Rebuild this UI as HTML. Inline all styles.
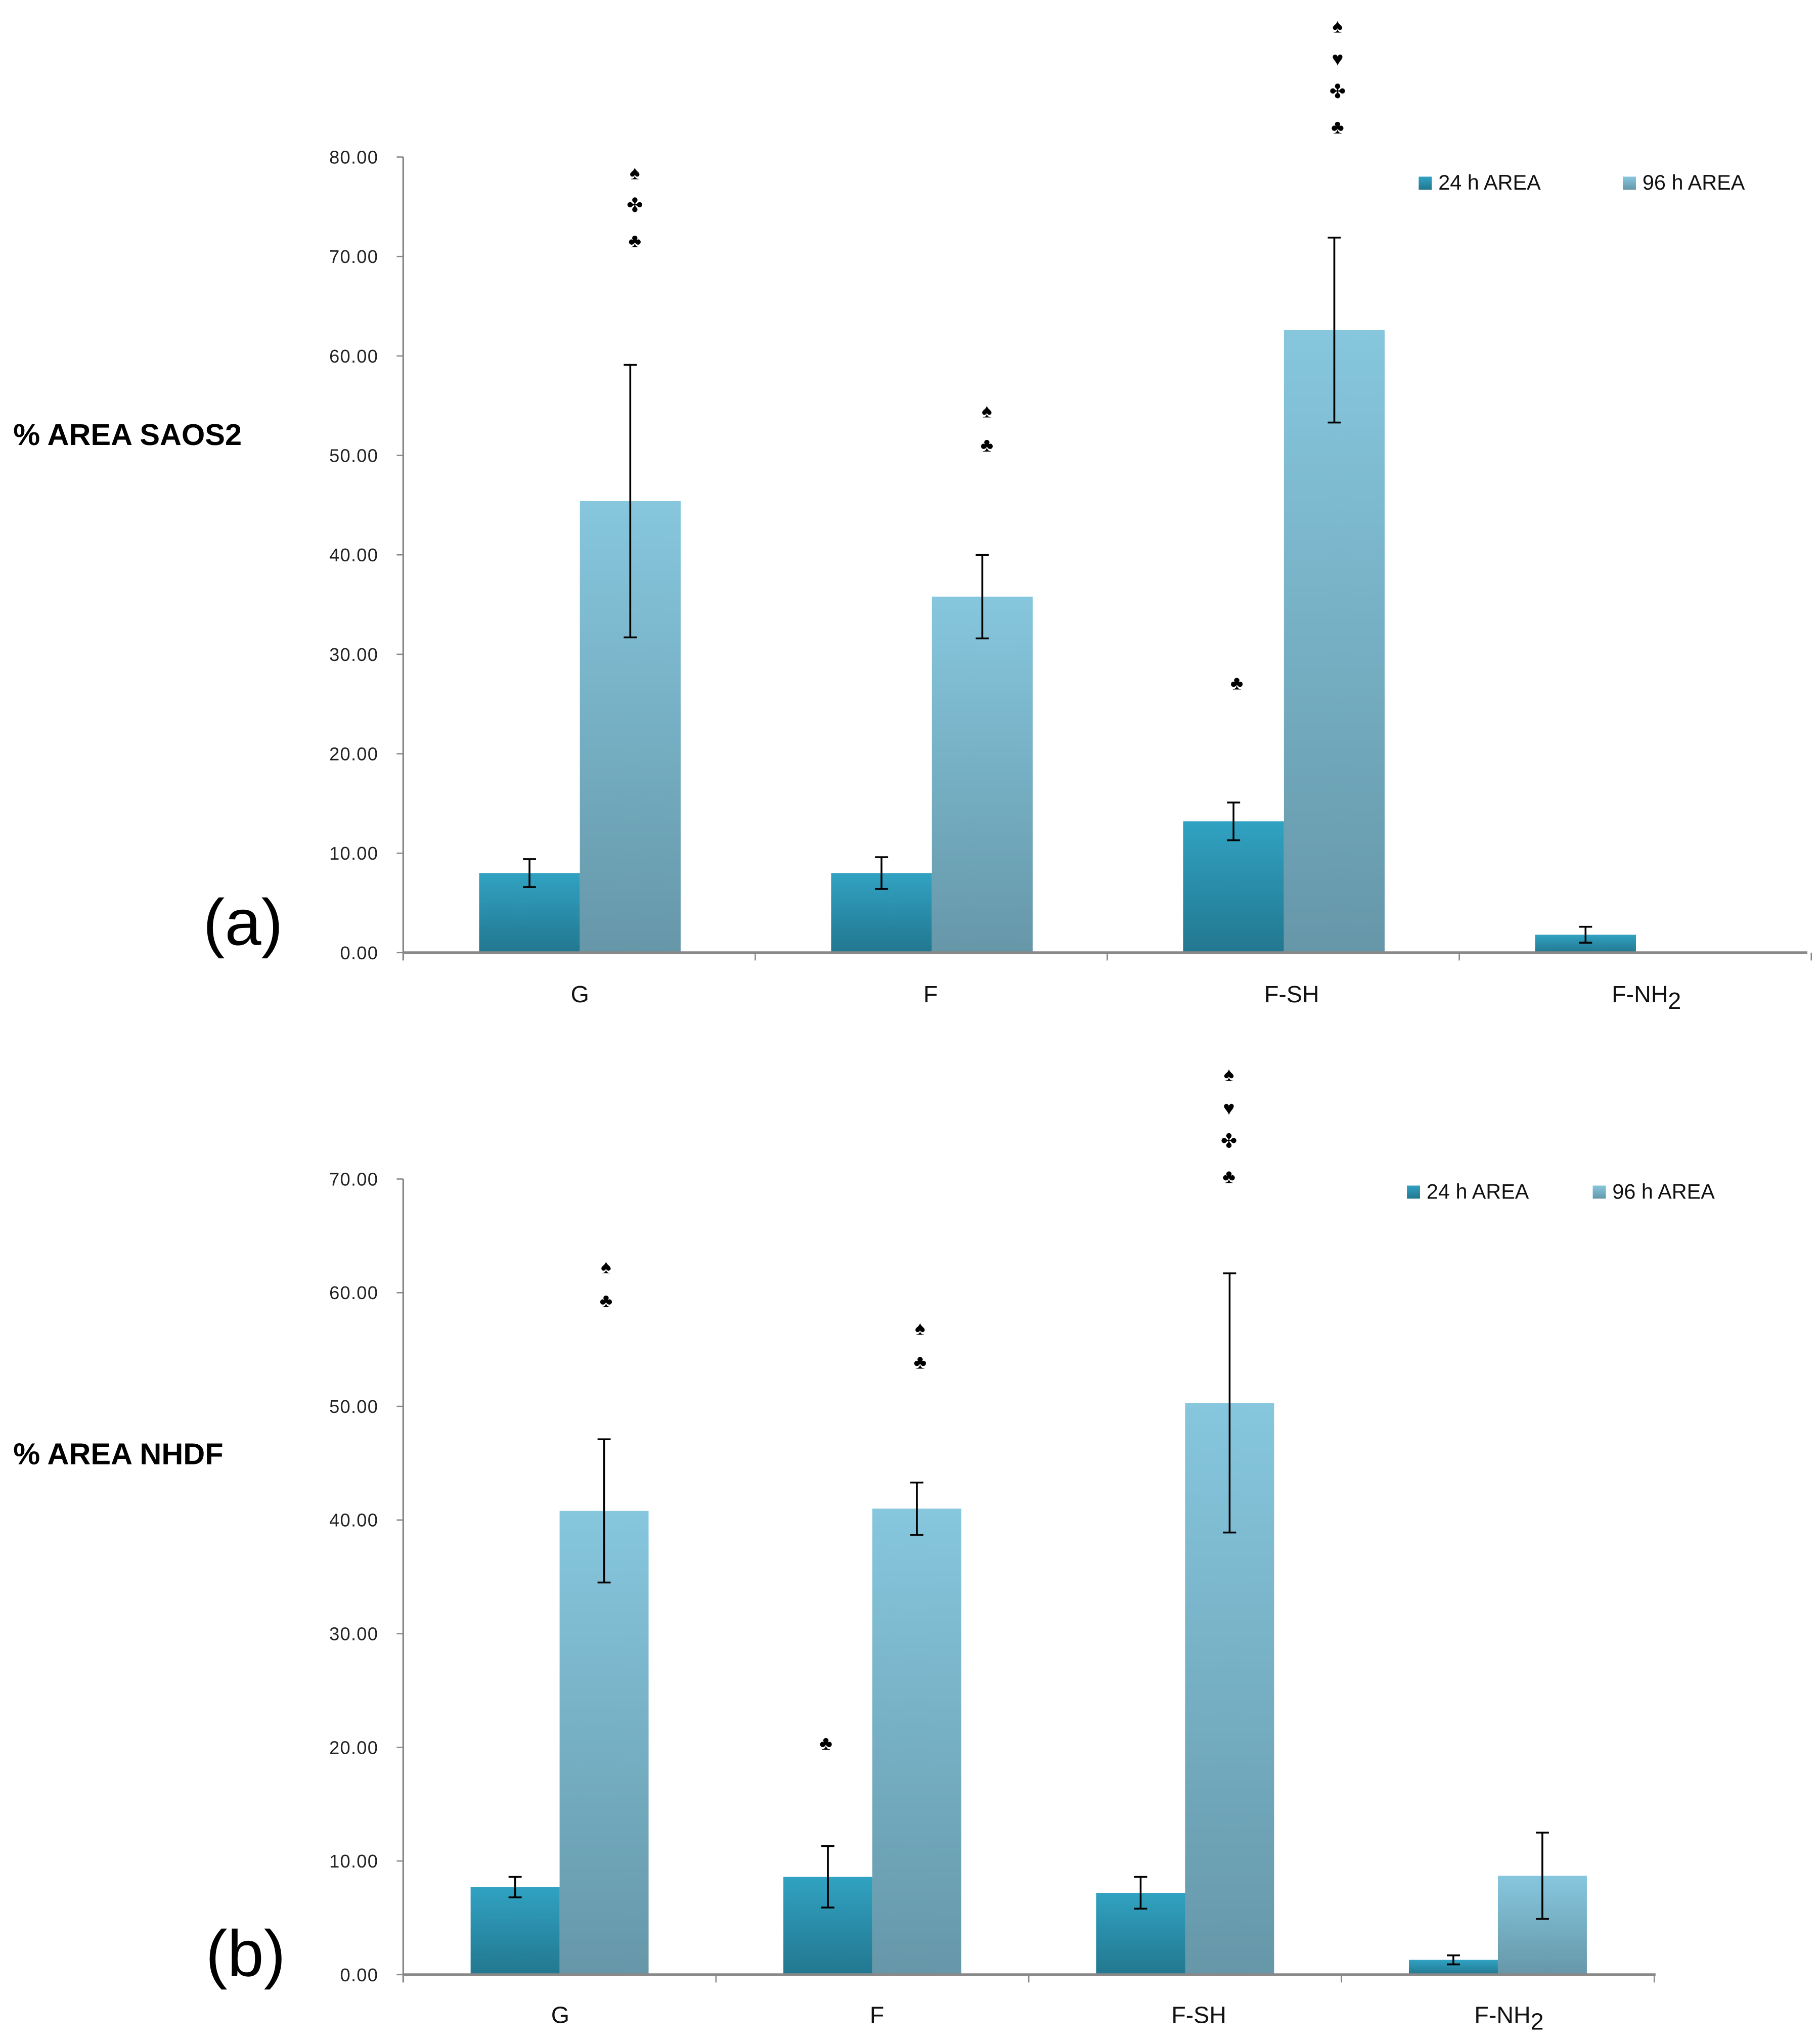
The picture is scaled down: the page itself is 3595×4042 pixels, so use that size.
<!DOCTYPE html>
<html><head><meta charset="utf-8"><style>
html,body{margin:0;padding:0;background:#fff}
svg{display:block}
text{font-family:"Liberation Sans","DejaVu Sans",sans-serif}
</style></head><body>
<svg id="fig" xmlns="http://www.w3.org/2000/svg" width="3595" height="4042" viewBox="0 0 1389 1562">
<defs>
<linearGradient id="g24" x1="0" y1="0" x2="0" y2="1"><stop offset="0" stop-color="#31a2c2"/><stop offset="1" stop-color="#22778f"/></linearGradient>
<linearGradient id="g96" x1="0" y1="0" x2="0" y2="1"><stop offset="0" stop-color="#86c7de"/><stop offset="1" stop-color="#6697a9"/></linearGradient>
</defs>
<g id="pa"></g>
<g id="pb"></g>
</svg>
<script>
const categories = ["G","F","F-SH","F-NH2"];
const aTicks = ["0.00","10.00","20.00","30.00","40.00","50.00","60.00","70.00","80.00"];
const a24 = [8.0, 8.0, 13.2, 1.8];
const a24Err = [1.4, 1.6, 1.9, 0.8];
const a96 = [45.4, 35.8, 62.6, 0];
const a96Err = [13.7, 4.2, 9.3, 0];
const bTicks = ["0.00","10.00","20.00","30.00","40.00","50.00","60.00","70.00"];
const b24 = [7.7, 8.6, 7.2, 1.3];
const b24Err = [0.9, 2.7, 1.4, 0.4];
const b96 = [40.8, 41.0, 50.3, 8.7];
const b96Err = [6.3, 2.3, 11.4, 3.8];

const NS="http://www.w3.org/2000/svg";
function mk(parent,tag,attrs,txt){const e=document.createElementNS(NS,tag);for(const k in attrs)e.setAttribute(k,attrs[k]);if(txt!==undefined)e.textContent=txt;parent.appendChild(e);return e;}

function panel(g,cfg){
  const y=v=>cfg.y0-(v/cfg.max)*(cfg.y0-cfg.yTop);
  // y axis
  let ax=mk(g,'line',{x1:cfg.x0,y1:cfg.yTop,x2:cfg.x0,y2:cfg.y0+6,stroke:'#888','stroke-width':1.3});
  
  
  cfg.ticks.forEach((t,i)=>{
    const v=i*10;
    let tl=mk(g,'line',{x1:cfg.x0-5,y1:y(v),x2:cfg.x0,y2:y(v),stroke:'#888','stroke-width':1});
    
    
    let tx=mk(g,'text',{x:cfg.x0-19,y:y(v)+5,'text-anchor':'end','font-size':14,fill:'#222','letter-spacing':'0.5'},t);
    
    
  });
  const n=categories.length;
  for(let i=1;i<=n;i++){
    const xs=cfg.x0+i*cfg.step;
    let tk=mk(g,'line',{x1:xs,y1:cfg.y0,x2:xs,y2:cfg.y0+6,stroke:'#888','stroke-width':1});
    
    
  }
  categories.forEach((c,i)=>{
    const cx=cfg.x0+cfg.step*(i+0.5)-cfg.shift;
    const bars=[[cfg.s24,cfg.e24,'url(#g24)',cx-cfg.bw,'bar-24h-'],[cfg.s96,cfg.e96,'url(#g96)',cx,'bar-96h-']];
    bars.forEach(([s,e,fill,bx,nm])=>{
      if(s[i]>0){
        let r=mk(g,'rect',{x:bx,y:y(s[i]),width:cfg.bw,height:cfg.y0-y(s[i]),fill:fill});
        
        
      }
      if(e[i]>0){
        const mx=bx+cfg.bw/2;
        const eg=mk(g,'g',{stroke:'#000','stroke-width':1.4});
        
        
        mk(eg,'line',{x1:mx,y1:y(s[i]+e[i]),x2:mx,y2:y(Math.max(0,s[i]-e[i]))});
        mk(eg,'line',{x1:mx-5,y1:y(s[i]+e[i]),x2:mx+5,y2:y(s[i]+e[i])});
        mk(eg,'line',{x1:mx-5,y1:y(Math.max(0,s[i]-e[i])),x2:mx+5,y2:y(Math.max(0,s[i]-e[i]))});
      }
    });
    const lab=c==="F-NH2"?"F-NH":c;
    let t=mk(g,'text',{x:cfg.labX[i],y:cfg.labY,'text-anchor':'middle','font-size':18,fill:'#111'},lab);
    if(c==="F-NH2"){const sub=mk(t,'tspan',{dy:5,'font-size':18},"2");}
    
    
  });
  let xa=mk(g,'line',{x1:cfg.x0,y1:cfg.y0,x2:cfg.xEnd,y2:cfg.y0,stroke:'#888','stroke-width':2});
  
  
}

const pa=document.getElementById('pa'), pb=document.getElementById('pb');
panel(pa,{x0:308,y0:728,yTop:120,max:80,step:269,shift:134.5-135,bw:77,xEnd:1381,ticks:aTicks,s24:a24,e24:a24Err,s96:a96,e96:a96Err,labX:[443,711,987,1258],labY:766});
panel(pb,{x0:308,y0:1509,yTop:901,max:70,step:239,shift:0,bw:68,xEnd:1265,ticks:bTicks,s24:b24,e24:b24Err,s96:b96,e96:b96Err,labX:[428,670,916,1153],labY:1546});

function txt(g,x,yy,s,size,name,extra){const t=mk(g,'text',Object.assign({x:x,y:yy,'font-size':size,fill:'#000'},extra||{}),s);return t;}
txt(pa,10,340,"% AREA SAOS2",23,'y-axis-title',{'font-weight':'bold'});
txt(pb,10,1119,"% AREA NHDF",23,'y-axis-title',{'font-weight':'bold'});
txt(pa,155,722,"(a)",50,'panel-label');
txt(pb,157,1510,"(b)",50,'panel-label');

function legend(g,x1,x2,yy){
  [[x1,'url(#g24)','24 h AREA','legend-entry-24h'],[x2,'url(#g96)','96 h AREA','legend-entry-96h']].forEach(([x,f,l,n])=>{
    const lg=mk(g,'g',{});
    
    
    mk(lg,'rect',{x:x,y:yy-10,width:10,height:10,fill:f});
    mk(lg,'text',{x:x+15,y:yy,'font-size':16,fill:'#111'},l);
  });
}
legend(pa,1084,1240,145);
legend(pb,1075,1217,916);

function sym(g,x,list){list.forEach(([s,yy])=>{txt(g,x,yy,s,15,'significance-mark',{'text-anchor':'middle'});});}
sym(pa,485,[["♠",137],["✤",162],["♣",189]]);
sym(pa,754,[["♠",319],["♣",345]]);
sym(pa,1022,[["♠",25],["♥",50],["✤",75],["♣",102]]);
sym(pa,945,[["♣",527]]);
sym(pb,463,[["♠",973],["♣",999]]);
sym(pb,703,[["♠",1020],["♣",1046]]);
sym(pb,631,[["♣",1337]]);
sym(pb,939,[["♠",826],["♥",852],["✤",877],["♣",904]]);
</script>
</body></html>
